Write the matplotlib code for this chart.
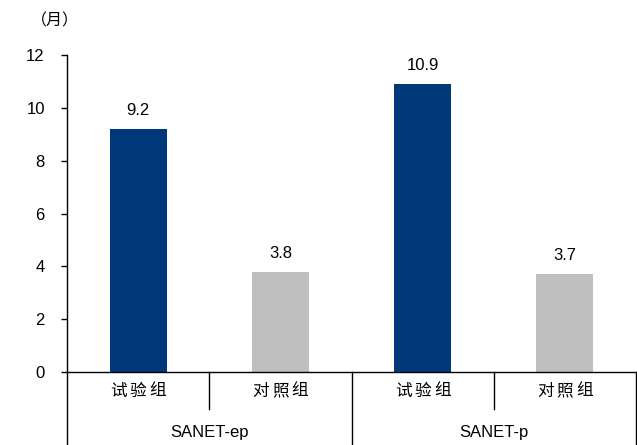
import matplotlib
matplotlib.use("Agg")
import matplotlib.pyplot as plt
import matplotlib.transforms as mtransforms

plt.rcParams['font.family'] = ['Liberation Sans', 'Noto Sans CJK SC', 'DejaVu Sans']

# Median survival (months) by trial and arm
trials = ["SANET-ep", "SANET-p"]
arms = ["试验组", "对照组"]
values = [9.2, 3.8, 10.9, 3.7]
colors = ["#00387A", "#BFBFBF", "#00387A", "#BFBFBF"]
yticks = [0, 2, 4, 6, 8, 10, 12]

W, H = 637, 445
fig = plt.figure(figsize=(W / 100, H / 100), dpi=100)
left, right, bottom, top = 67, 636, 372, 55
ax = fig.add_axes([left / W, (H - bottom) / H, (right - left) / W, (bottom - top) / H])

xs = list(range(len(values)))
ax.bar(xs, values, width=0.4, color=colors, zorder=2)
for x, v in zip(xs, values):
    ax.annotate(f"{v:.1f}", (x, v), xytext=(0, 8), textcoords="offset points",
                ha="center", va="bottom", fontsize=12)

ax.set_xlim(-0.5, len(values) - 0.5)
ax.set_ylim(0, 12)
ax.set_yticks(yticks)
ax.set_yticklabels([str(t) for t in yticks], fontsize=12)
ax.tick_params(axis="y", direction="out", length=4, width=1, pad=12)
ax.set_xticks([])
for s in ("top", "right"):
    ax.spines[s].set_visible(False)
for s in ("left", "bottom"):
    ax.spines[s].set_linewidth(1)
    ax.spines[s].set_color("black")

# Two-level category axis below the plot
blend = mtransforms.blended_transform_factory(ax.transData, ax.transAxes)
ph = bottom - top
minor_drop = -37 / ph
major_drop = -(H - bottom) / ph
line_kw = dict(color="black", lw=1, clip_on=False)
ax.plot([0, 0], [0, major_drop], transform=ax.transAxes, **line_kw)
ax.plot([0.5, 0.5], [0, minor_drop], transform=blend, **line_kw)
ax.plot([2.5, 2.5], [0, minor_drop], transform=blend, **line_kw)
ax.plot([1.5, 1.5], [0, major_drop], transform=blend, **line_kw)
ax.plot([3.5, 3.5], [0, major_drop], transform=blend, **line_kw)

cjk = ['Noto Sans CJK SC', 'DejaVu Sans']
char_step = 19.5  # pixels between character centres (letter-spaced labels)
for i, x in enumerate(xs):
    label = arms[i % 2]
    n = len(label)
    for k, ch in enumerate(label):
        dx = (k - (n - 1) / 2) * char_step
        t = blend + mtransforms.ScaledTranslation(dx / 100, 0, fig.dpi_scale_trans)
        ax.text(x, -19 / ph, ch, transform=t, ha="center", va="center",
                fontsize=12, family=cjk, clip_on=False)
for j, name in enumerate(trials):
    ax.text(2 * j + 0.5, -60 / ph, name, transform=blend, ha="center", va="center",
            fontsize=12)

fig.text(55 / W, 1 - 21 / H, "（月）", ha="center", va="center", fontsize=11.5,
         family=cjk)

fig.savefig("out.png", dpi=100)
